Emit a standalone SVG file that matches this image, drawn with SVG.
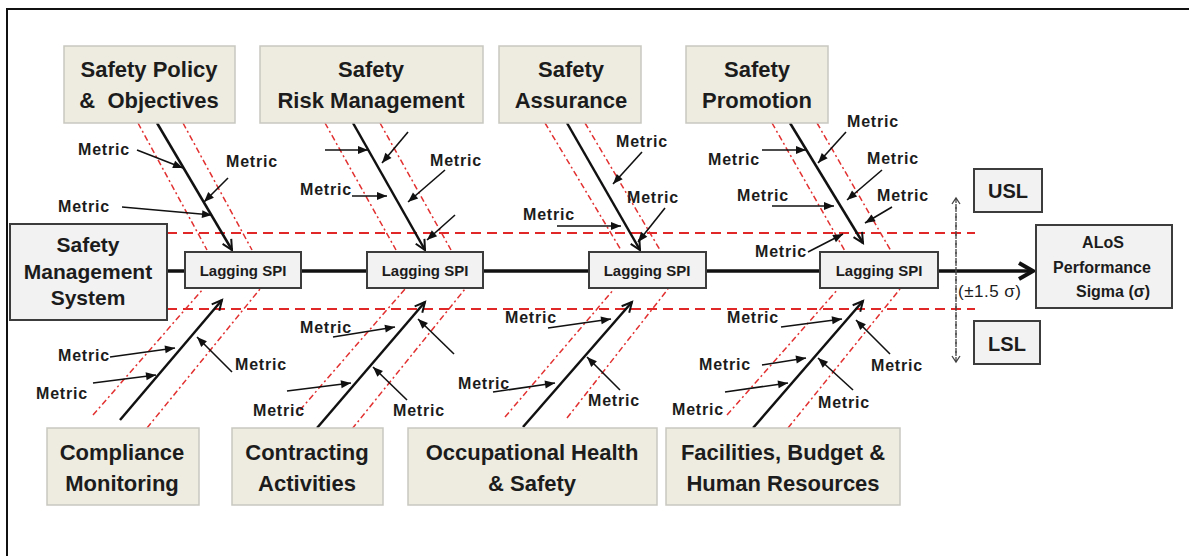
<svg xmlns="http://www.w3.org/2000/svg" width="1189" height="556" viewBox="0 0 1189 556">
<style>
text{font-family:"Liberation Sans",Arial,sans-serif;fill:#1c1c1c}
.cat{fill:#eeece1;stroke:#c9c8c0;stroke-width:1.5}
.gb{fill:#f2f2f2;stroke:#3c3c3c;stroke-width:2}
.ct{font-size:22px;font-weight:bold;text-anchor:middle}
.lg{font-size:15px;font-weight:bold;text-anchor:middle}
.mt{font-size:16px;font-weight:bold;letter-spacing:0.8px}
.rdd{stroke:#e23030;stroke-width:1.5;stroke-dasharray:6 3 2 3;fill:none}
.rh{stroke:#e02828;stroke-width:2;stroke-dasharray:10 6;fill:none}
.bone{stroke:#111;stroke-width:2.5;fill:none;marker-end:url(#bh)}
.ma{stroke:#111;stroke-width:1.6;fill:none;marker-end:url(#mh)}
</style>
<defs>
<marker id="mh" markerUnits="userSpaceOnUse" markerWidth="12" markerHeight="10" refX="10" refY="4" orient="auto" overflow="visible"><path d="M0,0 L10,4 L0,8 z" fill="#111"/></marker>
<marker id="bh" markerUnits="userSpaceOnUse" markerWidth="14" markerHeight="14" refX="10" refY="5" orient="auto" overflow="visible"><path d="M0,0 L10,5 L0,10" fill="none" stroke="#111" stroke-width="2"/></marker>
<marker id="sh" markerUnits="userSpaceOnUse" markerWidth="20" markerHeight="20" refX="14" refY="8" orient="auto" overflow="visible"><path d="M0,0 L14,8 L0,16" fill="none" stroke="#111" stroke-width="4"/></marker>
<marker id="vh" markerUnits="userSpaceOnUse" markerWidth="10" markerHeight="10" refX="6" refY="4" orient="auto" overflow="visible"><path d="M0,0 L6,4 L0,8" fill="none" stroke="#444" stroke-width="1.3"/></marker>
</defs>
<rect x="7" y="9" width="1200" height="570" fill="#fff" stroke="#111" stroke-width="2"/>

<g id="limits">
<line class="rh" x1="167" y1="233" x2="975" y2="233"/>
<line class="rh" x1="167" y1="309" x2="975" y2="309"/>
<line class="rdd" x1="138" y1="123" x2="207" y2="250"/>
<line class="rdd" x1="183" y1="123" x2="252" y2="250"/>
<line class="rdd" x1="325" y1="123" x2="396" y2="250"/>
<line class="rdd" x1="380" y1="123" x2="451" y2="250"/>
<line class="rdd" x1="545" y1="123" x2="621" y2="250"/>
<line class="rdd" x1="585" y1="123" x2="660" y2="250"/>
<line class="rdd" x1="772" y1="123" x2="845" y2="251"/>
<line class="rdd" x1="817" y1="123" x2="891" y2="251"/>
<line class="rdd" x1="93" y1="415" x2="203" y2="289"/>
<line class="rdd" x1="147" y1="428" x2="260" y2="289"/>
<line class="rdd" x1="300" y1="410" x2="405" y2="289"/>
<line class="rdd" x1="352" y1="429" x2="465" y2="289"/>
<line class="rdd" x1="505" y1="417" x2="614" y2="289"/>
<line class="rdd" x1="567" y1="418" x2="668" y2="289"/>
<line class="rdd" x1="727" y1="415" x2="838" y2="289"/>
<line class="rdd" x1="788" y1="428" x2="900" y2="289"/>
</g>

<g id="connectors">
<line x1="167" y1="271" x2="1033" y2="271" stroke="#111" stroke-width="3.5" marker-end="url(#sh)"/>
<line x1="956" y1="362" x2="956" y2="198" stroke="#444" stroke-width="1.3" stroke-dasharray="4 2 1 2" marker-end="url(#vh)"/>
<line x1="956" y1="198" x2="956" y2="362" stroke="#444" stroke-width="1.3" stroke-dasharray="4 2 1 2" marker-end="url(#vh)"/>
<line class="bone" x1="157" y1="123" x2="232" y2="250"/>
<line class="bone" x1="353" y1="123" x2="425" y2="250"/>
<line class="bone" x1="567" y1="123" x2="640" y2="250"/>
<line class="bone" x1="790" y1="123" x2="863" y2="243"/>
<line class="bone" x1="120" y1="420" x2="222" y2="300"/>
<line class="bone" x1="317" y1="428" x2="425" y2="302"/>
<line class="bone" x1="523" y1="427" x2="632" y2="302"/>
<line class="bone" x1="753" y1="428" x2="863" y2="301"/>
<line class="ma" x1="137" y1="150" x2="183" y2="168"/>
<line class="ma" x1="228" y1="178" x2="204" y2="202"/>
<line class="ma" x1="122" y1="207" x2="212" y2="215"/>
<line class="ma" x1="325" y1="150" x2="368" y2="150"/>
<line class="ma" x1="408" y1="132" x2="382" y2="163"/>
<line class="ma" x1="445" y1="170" x2="408" y2="202"/>
<line class="ma" x1="352" y1="196" x2="387" y2="196"/>
<line class="ma" x1="455" y1="215" x2="427" y2="240"/>
<line class="ma" x1="642" y1="152" x2="613" y2="184"/>
<line class="ma" x1="665" y1="208" x2="638" y2="242"/>
<line class="ma" x1="557" y1="226" x2="621" y2="226"/>
<line class="ma" x1="846" y1="132" x2="818" y2="163"/>
<line class="ma" x1="762" y1="150" x2="806" y2="150"/>
<line class="ma" x1="882" y1="170" x2="847" y2="200"/>
<line class="ma" x1="772" y1="206" x2="834" y2="206"/>
<line class="ma" x1="892" y1="207" x2="865" y2="223"/>
<line class="ma" x1="808" y1="252" x2="843" y2="234"/>
<line class="ma" x1="110" y1="357" x2="175" y2="348"/>
<line class="ma" x1="93" y1="383" x2="156" y2="375"/>
<line class="ma" x1="232" y1="372" x2="197" y2="337"/>
<line class="ma" x1="333" y1="337" x2="395" y2="327"/>
<line class="ma" x1="287" y1="391" x2="351" y2="383"/>
<line class="ma" x1="407" y1="400" x2="373" y2="367"/>
<line class="ma" x1="454" y1="354" x2="418" y2="319"/>
<line class="ma" x1="548" y1="328" x2="611" y2="319"/>
<line class="ma" x1="493" y1="392" x2="555" y2="383"/>
<line class="ma" x1="620" y1="390" x2="587" y2="357"/>
<line class="ma" x1="781" y1="327" x2="842" y2="319"/>
<line class="ma" x1="762" y1="365" x2="806" y2="358"/>
<line class="ma" x1="725" y1="392" x2="788" y2="383"/>
<line class="ma" x1="890" y1="354" x2="856" y2="320"/>
<line class="ma" x1="853" y1="390" x2="818" y2="358"/>
</g>

<g id="metric-labels">
<text class="mt" x="78" y="155">Metric</text>
<text class="mt" x="226" y="167">Metric</text>
<text class="mt" x="58" y="212">Metric</text>
<text class="mt" x="430" y="166">Metric</text>
<text class="mt" x="300" y="195">Metric</text>
<text class="mt" x="616" y="147">Metric</text>
<text class="mt" x="627" y="203">Metric</text>
<text class="mt" x="523" y="220">Metric</text>
<text class="mt" x="847" y="127">Metric</text>
<text class="mt" x="708" y="165">Metric</text>
<text class="mt" x="867" y="164">Metric</text>
<text class="mt" x="737" y="201">Metric</text>
<text class="mt" x="877" y="201">Metric</text>
<text class="mt" x="755" y="257">Metric</text>
<text class="mt" x="58" y="361">Metric</text>
<text class="mt" x="36" y="399">Metric</text>
<text class="mt" x="235" y="370">Metric</text>
<text class="mt" x="300" y="333">Metric</text>
<text class="mt" x="253" y="416">Metric</text>
<text class="mt" x="393" y="416">Metric</text>
<text class="mt" x="505" y="323">Metric</text>
<text class="mt" x="458" y="389">Metric</text>
<text class="mt" x="588" y="406">Metric</text>
<text class="mt" x="727" y="323">Metric</text>
<text class="mt" x="699" y="370">Metric</text>
<text class="mt" x="672" y="415">Metric</text>
<text class="mt" x="871" y="371">Metric</text>
<text class="mt" x="818" y="408">Metric</text>
</g>

<g id="cat-policy"><rect class="cat" x="64" y="46" width="171" height="77"/><text class="ct" x="149" y="77">Safety Policy</text><text class="ct" x="149" y="108" xml:space="preserve">&amp;  Objectives</text></g>
<g id="cat-risk"><rect class="cat" x="260" y="46" width="223" height="77"/><text class="ct" x="371" y="77">Safety</text><text class="ct" x="371" y="108">Risk Management</text></g>
<g id="cat-assurance"><rect class="cat" x="499" y="46" width="142" height="77"/><text class="ct" x="571" y="77">Safety</text><text class="ct" x="571" y="108">Assurance</text></g>
<g id="cat-promotion"><rect class="cat" x="686" y="46" width="142" height="77"/><text class="ct" x="757" y="77">Safety</text><text class="ct" x="757" y="108">Promotion</text></g>
<g id="cat-compliance"><rect class="cat" x="47" y="428" width="152" height="77"/><text class="ct" x="122" y="460">Compliance</text><text class="ct" x="122" y="491">Monitoring</text></g>
<g id="cat-contracting"><rect class="cat" x="232" y="428" width="151" height="77"/><text class="ct" x="307" y="460">Contracting</text><text class="ct" x="307" y="491">Activities</text></g>
<g id="cat-ohs"><rect class="cat" x="408" y="428" width="249" height="77"/><text class="ct" x="532" y="460">Occupational Health</text><text class="ct" x="532" y="491">&amp; Safety</text></g>
<g id="cat-facilities"><rect class="cat" x="666" y="428" width="234" height="77"/><text class="ct" x="783" y="460">Facilities, Budget &amp;</text><text class="ct" x="783" y="491">Human Resources</text></g>

<g id="sms"><rect class="gb" x="10" y="224" width="157" height="96"/>
<text class="ct" style="font-size:21px" x="88" y="252">Safety</text><text class="ct" style="font-size:21px" x="88" y="279">Management</text><text class="ct" style="font-size:21px" x="88" y="305">System</text></g>
<g id="spi1"><rect class="gb" x="185" y="252" width="116" height="36"/><text class="lg" x="243" y="276">Lagging SPI</text></g>
<g id="spi2"><rect class="gb" x="367" y="252" width="116" height="36"/><text class="lg" x="425" y="276">Lagging SPI</text></g>
<g id="spi3"><rect class="gb" x="589" y="252" width="117" height="36"/><text class="lg" x="647" y="276">Lagging SPI</text></g>
<g id="spi4"><rect class="gb" x="820" y="252" width="118" height="36"/><text class="lg" x="879" y="276">Lagging SPI</text></g>
<g id="alos"><rect class="gb" x="1036" y="225" width="136" height="83"/>
<text class="lg" style="font-size:16px" x="1103" y="248">ALoS</text><text class="lg" style="font-size:16px" x="1102" y="273">Performance</text><text class="lg" style="font-size:16px" x="1113" y="297">Sigma (σ)</text></g>
<g id="usl"><rect class="gb" x="974" y="169" width="68" height="43"/><text class="ct" style="font-size:20px" x="1008" y="198">USL</text></g>
<g id="lsl"><rect class="gb" x="974" y="321" width="66" height="43"/><text class="ct" style="font-size:20px" x="1007" y="351">LSL</text></g>
<g id="sigma-range"><text x="958" y="297" style="font-size:17px;letter-spacing:0.5px">(±1.5 σ)</text></g>
</svg>
